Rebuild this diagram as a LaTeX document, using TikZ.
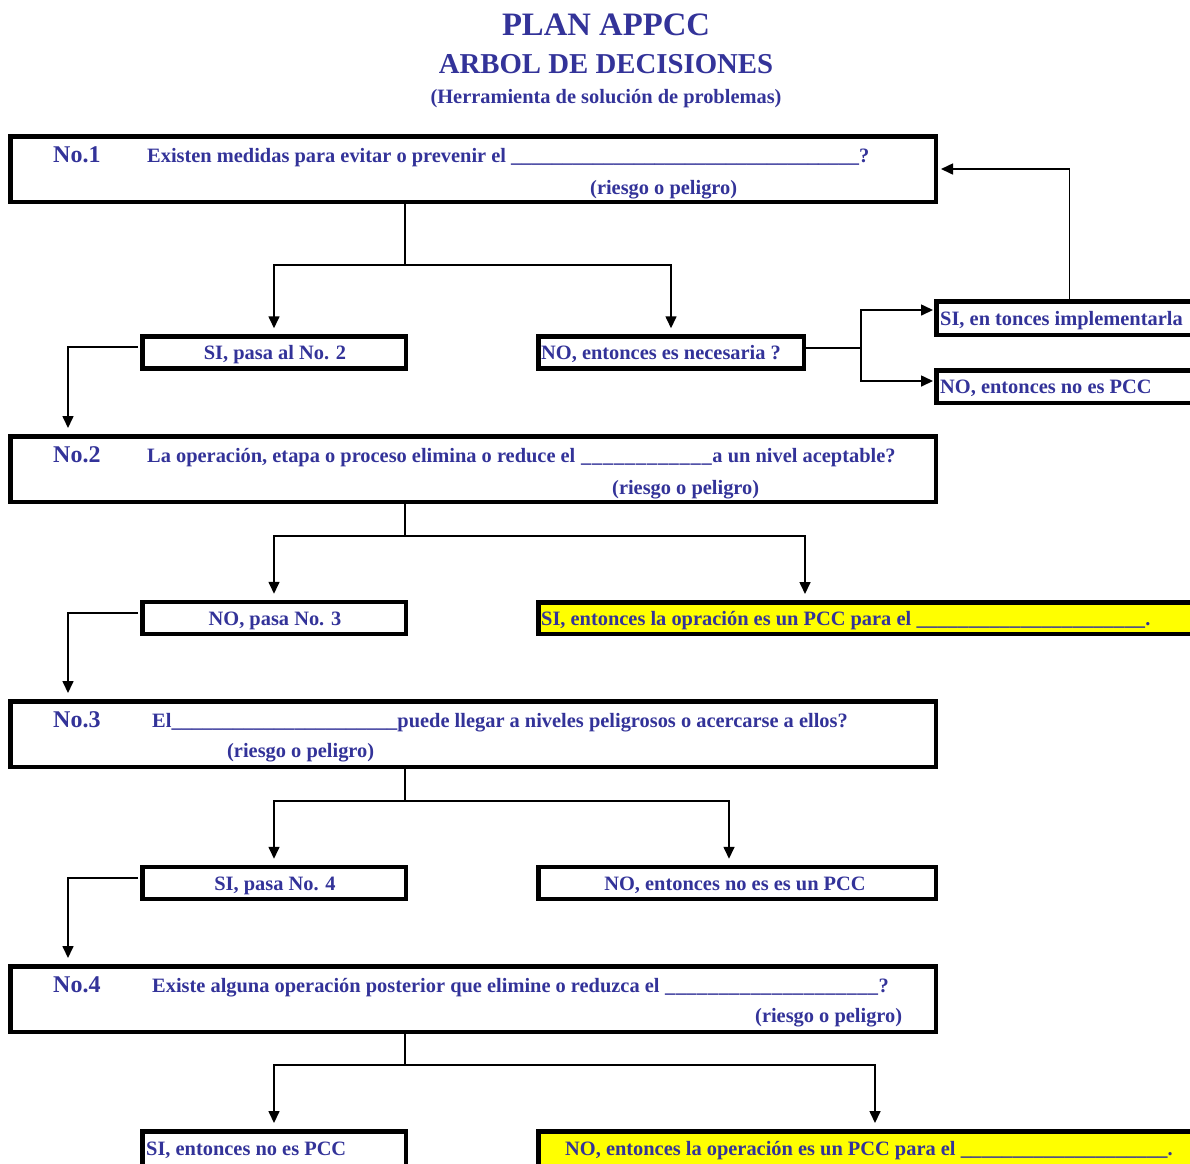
\documentclass[tikz,border=0pt]{standalone}
\usepackage{fontspec}
\setmainfont{Liberation Serif}
\usetikzlibrary{arrows.meta}
\definecolor{ink}{RGB}{51,51,153}
\definecolor{hilite}{RGB}{255,255,0}
% a run of underscores of a given width, used as the blank to fill in
\newcommand\blankline[1]{\hbox to #1{\xleaders\hbox{\_}\hfill}}

\begin{document}
\begin{tikzpicture}[x=1pt,y=-1pt,
  boxframe/.style={draw=black, line width=4.5pt, inner sep=0pt, fill=white},
  bigbox/.style={boxframe, minimum width=925.5pt, minimum height=65.5pt},
  smallbox/.style={boxframe, minimum height=32pt},
  yellowbox/.style={boxframe, fill=hilite},
  txt/.style={text=ink, font=\bfseries\fontsize{20.4}{24}\selectfont, inner sep=0pt, anchor=base west},
  ctxt/.style={txt, anchor=base},
  numtxt/.style={txt, font=\bfseries\fontsize{24}{28}\selectfont},
  wire/.style={line width=1.6pt, draw=black},
  arr/.style={wire, -{Triangle[length=12pt,width=11pt]}, shorten >=6pt},
]
\useasboundingbox (0,0) rectangle (1190,1163);
\clip (0,0) rectangle (1190,1163);

% heading
\node[ctxt, font=\bfseries\fontsize{32.7}{36}\selectfont] (h1) at (606,35) {PLAN APPCC};
\node[ctxt, font=\bfseries\fontsize{28.8}{32}\selectfont] (h2) at (606,73) {ARBOL DE DECISIONES};
\node[ctxt] (h3) at (606,103) {(Herramienta de solución de problemas)};

% question boxes
\node[bigbox] (q1) at (473,169) {};
\node[bigbox] (q2) at (473,469) {};
\node[bigbox] (q3) at (473,734) {};
\node[bigbox] (q4) at (473,999) {};

% answer boxes
\node[smallbox, minimum width=263.5pt] (s1) at (274,352.5) {};
\node[smallbox, minimum width=265.5pt] (n1) at (671,352.5) {};
\node[boxframe, minimum width=266.5pt, minimum height=33.5pt] (r1) at (1069.5,318) {};
\node[boxframe, minimum width=266.5pt, minimum height=32.5pt] (r2) at (1069.5,386.5) {};
\node[smallbox, minimum width=263.5pt] (s2) at (274,618) {};
\node[yellowbox, minimum width=664.5pt, minimum height=31.5pt] (y1) at (870.5,618) {};
\node[smallbox, minimum width=263.5pt] (s3) at (274,883) {};
\node[smallbox, minimum width=397.5pt] (n3) at (737,883) {};
\node[boxframe, minimum width=263.5pt, minimum height=41.5pt] (s4) at (274,1152) {};
\node[yellowbox, minimum width=664.5pt, minimum height=41.5pt] (y2) at (870.5,1152) {};

% question texts
\node[numtxt] (q1n) at (53,162) {No.1};
\node[txt] (q1a) at (147,162) {Existen medidas para evitar o prevenir el \blankline{348pt}?};
\node[txt] (q1b) at (590,194) {(riesgo o peligro)};

\node[numtxt] (q2n) at (53,462) {No.2};
\node[txt] (q2a) at (147,462) {La operación, etapa o proceso elimina o reduce el \blankline{132pt}a un nivel aceptable?};
\node[txt] (q2b) at (612,494) {(riesgo o peligro)};

\node[numtxt] (q3n) at (53,727) {No.3};
\node[txt] (q3a) at (152,727) {El\blankline{226pt}puede llegar a niveles peligrosos o acercarse a ellos?};
\node[txt] (q3b) at (227,757) {(riesgo o peligro)};

\node[numtxt] (q4n) at (53,992) {No.4};
\node[txt] (q4a) at (152,992) {Existe alguna operación posterior que elimine o reduzca el \blankline{214pt}?};
\node[txt] (q4b) at (755,1022) {(riesgo o peligro)};

% answer texts
\node[ctxt] (s1t) at (275,359) {SI, pasa al No. 2};
\node[txt] (n1t) at (541,359) {NO, entonces es necesaria ?};
\node[txt] (r1t) at (940,325.5) {SI, en tonces implementarla};
\node[txt] (r2t) at (940,393.5) {NO, entonces no es PCC};
\node[ctxt] (s2t) at (275,625.5) {NO, pasa No. 3};
\node[txt] (y1t) at (541,625.5) {SI, entonces la opración es un PCC para el \blankline{229pt}.};
\node[ctxt] (s3t) at (275,890.5) {SI, pasa No. 4};
\node[ctxt] (n3t) at (735,890.5) {NO, entonces no es es un PCC};
\node[txt] (s4t) at (146,1155.5) {SI, entonces no es PCC};
\node[txt] (y2t) at (565,1155.5) {NO, entonces la operación es un PCC para el \blankline{207pt}.};

% branch points and guide coordinates
\coordinate (j1) at (405,265);
\coordinate (j2) at (405,536);
\coordinate (j3) at (405,801);
\coordinate (j4) at (405,1065);
\coordinate (c2) at (805,0);
\coordinate (c3) at (729,0);
\coordinate (c4) at (875,0);
\coordinate (lx) at (68,0);
\coordinate (k) at (861,348);

% question -> answers
\draw[wire] (q1.south -| j1) -- (j1);
\draw[arr] (j1) -| (s1.north);
\draw[arr] (j1) -| (n1.north);

\draw[wire] (q2.south -| j2) -- (j2);
\draw[arr] (j2) -| (s2.north);
\draw[arr] (j2) -| (c2 |- y1.north);

\draw[wire] (q3.south -| j3) -- (j3);
\draw[arr] (j3) -| (s3.north);
\draw[arr] (j3) -| (c3 |- n3.north);

\draw[wire] (q4.south -| j4) -- (j4);
\draw[arr] (j4) -| (s4.north);
\draw[arr] (j4) -| (c4 |- y2.north);

% answers -> next question
\draw[arr, shorten <=2pt] ([yshift=5.5pt]s1.west) -| (lx |- q2.north);
\draw[arr, shorten <=2pt] ([yshift=5pt]s2.west) -| (lx |- q3.north);
\draw[arr, shorten <=2pt] ([yshift=5pt]s3.west) -| (lx |- q4.north);

% "is it necessary?" branch and loop back to question 1
\draw[wire] ([yshift=4.5pt]n1.east) -- (k);
\draw[arr, shorten >=1pt] (k) |- ([yshift=8pt]r1.west);
\draw[arr, shorten >=1pt] (k) |- ([yshift=5.5pt]r2.west);
\draw[arr, shorten >=3pt] (r1.north) |- (q1.east);
\end{tikzpicture}
\end{document}
